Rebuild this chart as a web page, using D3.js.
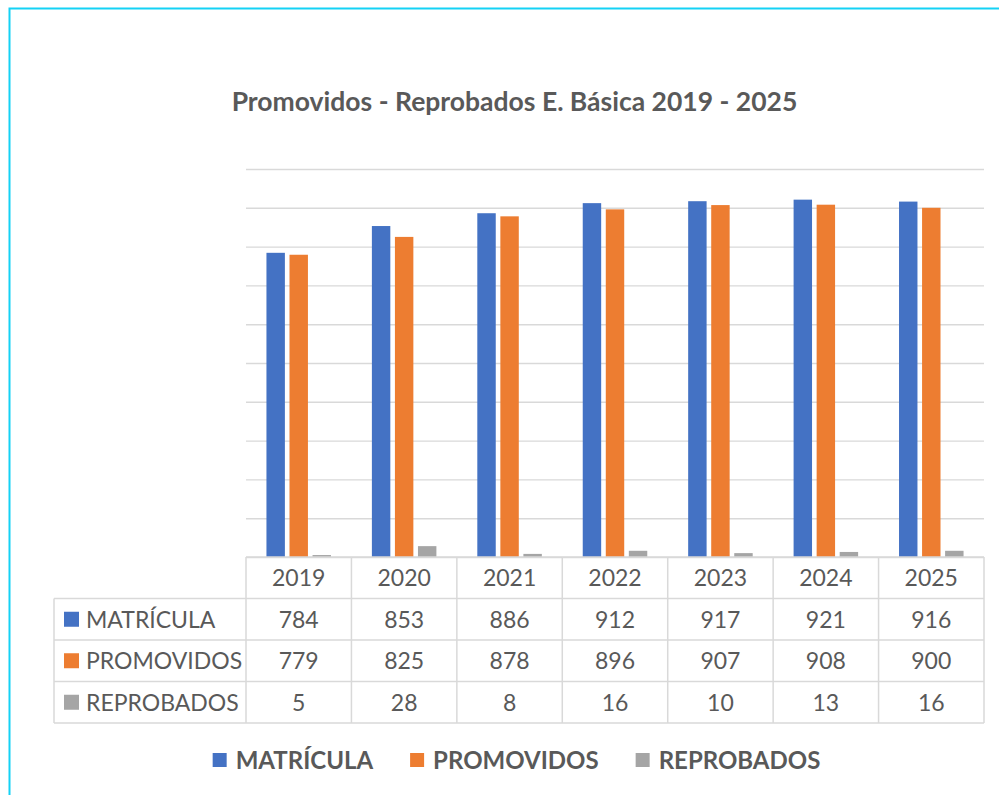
<!DOCTYPE html>
<html>
<head>
<meta charset="utf-8">
<script src="https://cdn.jsdelivr.net/npm/d3@7"></script>
<style>
  body { margin: 0; background: #fff; }
  svg { display: block; font-family: Lato, "Open Sans", sans-serif; }
</style>
</head>
<body>
<div id="chart-area"></div>
<script>
// data
var years = ['2019', '2020', '2021', '2022', '2023', '2024', '2025'];
var matricula = [784, 853, 886, 912, 917, 921, 916];
var promovidos = [779, 825, 878, 896, 907, 908, 900];
var reprobados = [5, 28, 8, 16, 10, 13, 16];
var seriesNames = ['MATRÍCULA', 'PROMOVIDOS', 'REPROBADOS'];
var colors = ['#4472C4', '#ED7D31', '#A5A5A5'];
var titleText = 'Promovidos - Reprobados E. Básica 2019 - 2025';

var seriesValues = [matricula, promovidos, reprobados];
var textColor = '#595959';
var lineColor = '#d9d9d9';

var W = 999, H = 795;
var plot = {left: 246, right: 984, top: 169, bottom: 557};
var rowH = 41.5;
var labelLeft = 54;

var svg = d3.select('#chart-area')
  .append('svg')
    .attr('width', W)
    .attr('height', H);

// outer frame (cyan)
svg.append('rect')
  .attr('x', 9.5)
  .attr('y', 8.5)
  .attr('width', W + 20)
  .attr('height', H + 20)
  .attr('fill', 'none')
  .attr('stroke', '#14d2f5')
  .attr('stroke-width', 2);

// title
svg.append('text')
  .attr('x', 514.5)
  .attr('y', 111)
  .attr('text-anchor', 'middle')
  .attr('font-size', '26.5px')
  .attr('font-weight', 'bold')
  .attr('fill', textColor)
  .text(titleText);

// scales
var x = d3.scaleBand()
  .domain(years)
  .range([plot.left, plot.right])
  .paddingInner(0.388)
  .paddingOuter(0.194);

var xs = d3.scaleBand()
  .domain(seriesNames)
  .range([0, x.bandwidth()])
  .paddingInner(0.2);

var y = d3.scaleLinear()
  .domain([0, 1000])
  .range([plot.bottom, plot.top]);

// gridlines (no labels)
var yAxisCall = d3.axisLeft(y)
  .ticks(10)
  .tickSize(-(plot.right - plot.left))
  .tickFormat('');
var grid = svg.append('g')
  .attr('class', 'grid')
  .attr('transform', 'translate(' + plot.left + ',0)')
  .call(yAxisCall);
grid.select('.domain').remove();
grid.selectAll('line')
  .attr('stroke', lineColor)
  .attr('stroke-width', 1.4);

// bars
var rows = [];
years.forEach(function(yr, i){
  seriesNames.forEach(function(s, j){
    rows.push({year: yr, series: s, value: seriesValues[j][i], color: colors[j]});
  });
});

svg.append('g').selectAll('rect')
  .data(rows)
  .enter().append('rect')
    .attr('x', function(d){ return x(d.year) + xs(d.series) })
    .attr('y', function(d){ return y(d.value) })
    .attr('width', xs.bandwidth())
    .attr('height', function(d){ return plot.bottom - y(d.value) })
    .attr('fill', function(d){ return d.color });

// data table
var table = svg.append('g').attr('class', 'data-table');
var tableBottom = plot.bottom + rowH * 4;

// horizontal lines
table.append('line')
  .attr('x1', plot.left).attr('x2', plot.right)
  .attr('y1', plot.bottom).attr('y2', plot.bottom);
for (var r = 1; r <= 4; r++) {
  table.append('line')
    .attr('x1', labelLeft).attr('x2', plot.right)
    .attr('y1', plot.bottom + rowH * r).attr('y2', plot.bottom + rowH * r);
}
// vertical lines
table.append('line')
  .attr('x1', labelLeft).attr('x2', labelLeft)
  .attr('y1', plot.bottom + rowH).attr('y2', tableBottom);
x.domain().concat(['end']).forEach(function(yr, i){
  var xx = plot.left + x.step() * i;
  table.append('line')
    .attr('x1', xx).attr('x2', xx)
    .attr('y1', plot.bottom).attr('y2', tableBottom);
});
table.selectAll('line')
  .attr('stroke', lineColor)
  .attr('stroke-width', 1.5);

// header years
table.selectAll('.year-label')
  .data(years)
  .enter().append('text')
    .attr('class', 'year-label')
    .attr('x', function(d){ return x(d) + x.bandwidth() / 2 })
    .attr('y', plot.bottom + rowH / 2)
    .attr('dy', '0.36em')
    .attr('text-anchor', 'middle')
    .attr('font-size', '23px')
    .attr('fill', textColor)
    .text(function(d){ return d });

// series rows
seriesNames.forEach(function(s, j){
  var cy = plot.bottom + rowH * (j + 1) + rowH / 2;
  table.append('rect')
    .attr('x', 64)
    .attr('y', cy - 7.5)
    .attr('width', 15)
    .attr('height', 15)
    .attr('fill', colors[j]);
  table.append('text')
    .attr('x', 86)
    .attr('y', cy)
    .attr('dy', '0.36em')
    .attr('font-size', '23px')
    .attr('fill', textColor)
    .text(s);
  table.selectAll('.val-' + j)
    .data(seriesValues[j])
    .enter().append('text')
      .attr('class', 'val-' + j)
      .attr('x', function(d, i){ return x(years[i]) + x.bandwidth() / 2 })
      .attr('y', cy)
      .attr('dy', '0.36em')
      .attr('text-anchor', 'middle')
      .attr('font-size', '23px')
      .attr('fill', textColor)
      .text(function(d){ return d });
});

// legend at bottom, centred
var legend = svg.append('g').attr('class', 'legend');
var lx = 0;
seriesNames.forEach(function(s, j){
  var g = legend.append('g');
  g.append('rect')
    .attr('y', -7)
    .attr('width', 14)
    .attr('height', 14)
    .attr('fill', colors[j]);
  var t = g.append('text')
    .attr('x', 23)
    .attr('dy', '0.36em')
    .attr('font-size', '24px')
    .attr('font-weight', 'bold')
    .attr('fill', textColor)
    .text(s);
  var w = 23 + t.node().getComputedTextLength();
  g.attr('transform', 'translate(' + lx + ',0)');
  lx += w + 37;
});
var legendW = lx - 37;
legend.attr('transform', 'translate(' + (516.5 - legendW / 2) + ',760)');
</script>
</body>
</html>
